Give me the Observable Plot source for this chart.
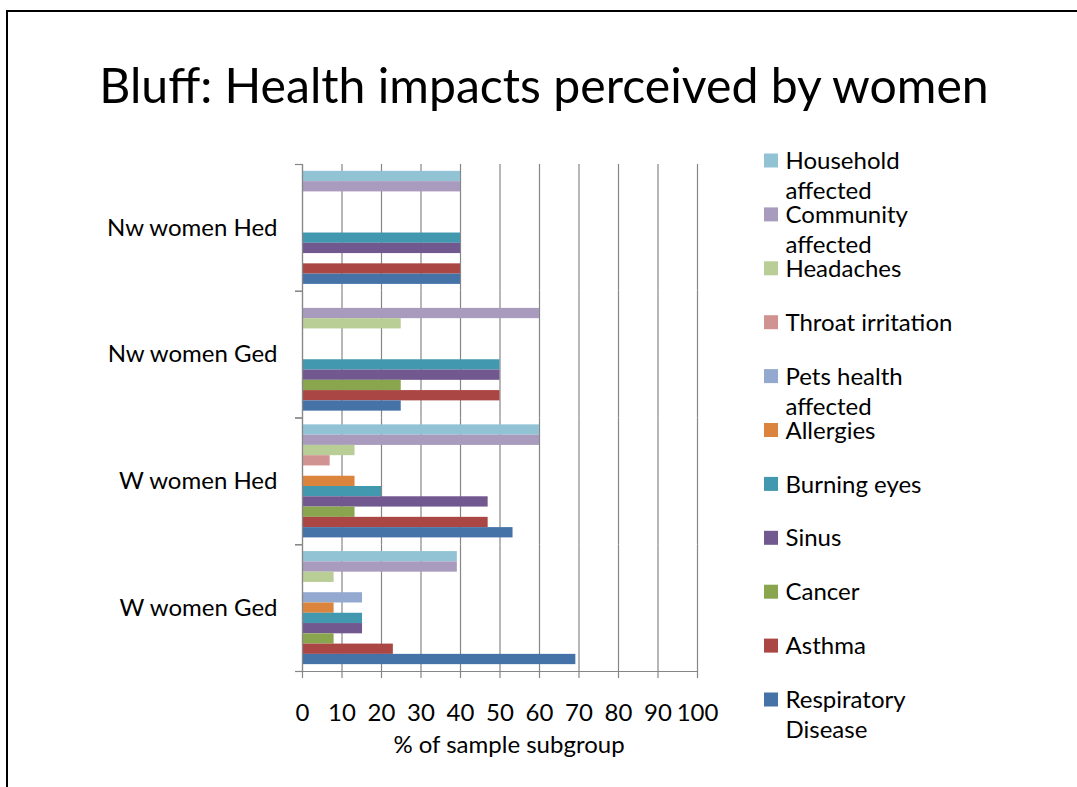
<!DOCTYPE html>
<html><head><meta charset="utf-8">
<script src="https://cdn.jsdelivr.net/npm/d3@7"></script>
<script src="https://cdn.jsdelivr.net/npm/@observablehq/plot@0.6"></script>
<style>
html,body{margin:0;padding:0;background:#fff;}
#root{position:relative;width:1077px;height:787px;overflow:hidden;font-family:Lato,sans-serif;}
#root > svg{position:absolute;left:0;top:0;}
</style></head><body><div id="root"></div>
<script>
// ---- data ----
const titleText = "Bluff: Health impacts perceived by women";
const xLabel = "% of sample subgroup";
const categories = ["Nw women Hed", "Nw women Ged", "W women Hed", "W women Ged"];
// series, top-to-bottom within each group
const series = ["Household affected", "Community affected", "Headaches", "Throat irritation",
  "Pets health affected", "Allergies", "Burning eyes", "Sinus", "Cancer", "Asthma", "Respiratory Disease"];
const colors = ["#91C3D5", "#A99BBD", "#B9CD96", "#D19392", "#93A9CF", "#DB843D",
  "#4198AF", "#71588F", "#89A54E", "#AA4643", "#4572A7"];
// values per series, in category order
const householdAffected  = [40, 0, 60, 39.2];
const communityAffected  = [40, 60, 60, 39.2];
const headaches          = [0, 25, 13.3, 8];
const throatIrritation   = [0, 0, 7, 0];
const petsHealthAffected = [0, 0, 0, 15.2];
const allergies          = [0, 0, 13.3, 8];
const burningEyes        = [40, 50, 20, 15.2];
const sinus              = [40, 50, 47, 15.2];
const cancer             = [0, 25, 13.3, 8];
const asthma             = [40, 50, 47, 23];
const respiratoryDisease = [40, 25, 53.3, 69.2];
const xTicks = [0, 10, 20, 30, 40, 50, 60, 70, 80, 90, 100];

const seriesValues = [householdAffected, communityAffected, headaches, throatIrritation,
  petsHealthAffected, allergies, burningEyes, sinus, cancer, asthma, respiratoryDisease];
const data = categories.flatMap((c, i) => series.map((s, j) => ({category: c, series: s, value: seriesValues[j][i]})));

// ---- font fitting ----
const FONT = "Lato";
const ctx = document.createElement("canvas").getContext("2d");
function measure(text, size) { ctx.font = `${size}px ${FONT}`; return ctx.measureText(text).width; }
function fitSize(text, target) { return 100 * target / measure(text, 100); }
const fs = fitSize("Throat irritation", 167);
const titleFs = fitSize(titleText, 892);

// ---- layout ----
const W = 1077, H = 787;
const mTop = 164, mBottom = 116, mLeft = 302, mRight = 380;
const band = (H - mTop - mBottom) / categories.length;
const gray = "#868686";

const chart = Plot.plot({
  width: W, height: H,
  marginTop: mTop, marginBottom: mBottom, marginLeft: mLeft, marginRight: mRight,
  style: {fontFamily: FONT, fontSize: fs + "px", color: "#000", background: "transparent", overflow: "visible"},
  x: {domain: [0, 100]},
  y: {domain: series, axis: null, paddingInner: 0, paddingOuter: 0.667, round: false},
  fy: {domain: categories, padding: 0, round: false},
  color: {domain: series, range: colors},
  marks: [
    Plot.gridX(xTicks, {stroke: gray, strokeOpacity: 1, strokeWidth: 1.2}),
    Plot.barX(data, {fy: "category", y: "series", x: "value", fill: "series"}),
    Plot.ruleX([0], {stroke: gray, strokeWidth: 1.2}),
    Plot.frame({anchor: "bottom", facetAnchor: "bottom", stroke: gray, strokeWidth: 1.2}),
    Plot.axisFy({anchor: "left", tickSize: 0, tickPadding: 25, label: null, fontSize: fs}),
    Plot.axisFy({anchor: "left", tickSize: 7, tickFormat: () => "", label: null, dy: -band / 2, stroke: gray, strokeWidth: 1.2}),
    Plot.axisFy({anchor: "left", tickSize: 7, tickFormat: () => "", label: null, dy: band / 2, stroke: gray, strokeWidth: 1.2}),
    Plot.axisX(xTicks, {anchor: "bottom", tickSize: 7, tickPadding: 25, label: null, stroke: gray, strokeWidth: 1.2, fill: "#000", fontSize: fs})
  ]
});
const root = document.getElementById("root");
root.appendChild(chart);

// ---- overlay: border, title, axis label, legend ----
const svg = d3.select(root).append("svg").attr("width", W).attr("height", H)
  .style("pointer-events", "none").attr("font-family", FONT);
svg.append("line").attr("x1", 6).attr("x2", W).attr("y1", 11).attr("y2", 11).attr("stroke", "#000").attr("stroke-width", 2);
svg.append("line").attr("x1", 7).attr("x2", 7).attr("y1", 10).attr("y2", H).attr("stroke", "#000").attr("stroke-width", 2);

svg.append("text").attr("x", 544).attr("y", 103).attr("text-anchor", "middle")
  .attr("font-size", titleFs).attr("fill", "#000").text(titleText);

svg.append("text").attr("x", 509).attr("y", 753).attr("text-anchor", "middle")
  .attr("font-size", fs).attr("fill", "#000").text(xLabel);

const capH = 0.717 * fs;
const legendX = 764, legendTop = 160.5, legendStep = 53.9, lineH = 30, wrapW = 185;
function wrap(text) {
  const words = text.split(" "), lines = [];
  let cur = "";
  for (const w of words) {
    const t = cur ? cur + " " + w : w;
    if (cur && measure(t, fs) > wrapW) { lines.push(cur); cur = w; } else cur = t;
  }
  lines.push(cur);
  return lines;
}
series.forEach((s, i) => {
  const cy = legendTop + i * legendStep;
  svg.append("rect").attr("x", legendX).attr("y", cy - 7).attr("width", 14).attr("height", 14).attr("fill", colors[i]);
  const t = svg.append("text").attr("x", legendX + 21.5).attr("y", cy + capH / 2).attr("font-size", fs).attr("fill", "#000");
  wrap(s).forEach((line, k) => t.append("tspan").attr("x", legendX + 21.5).attr("dy", k === 0 ? 0 : lineH).text(line));
});
</script></body></html>
